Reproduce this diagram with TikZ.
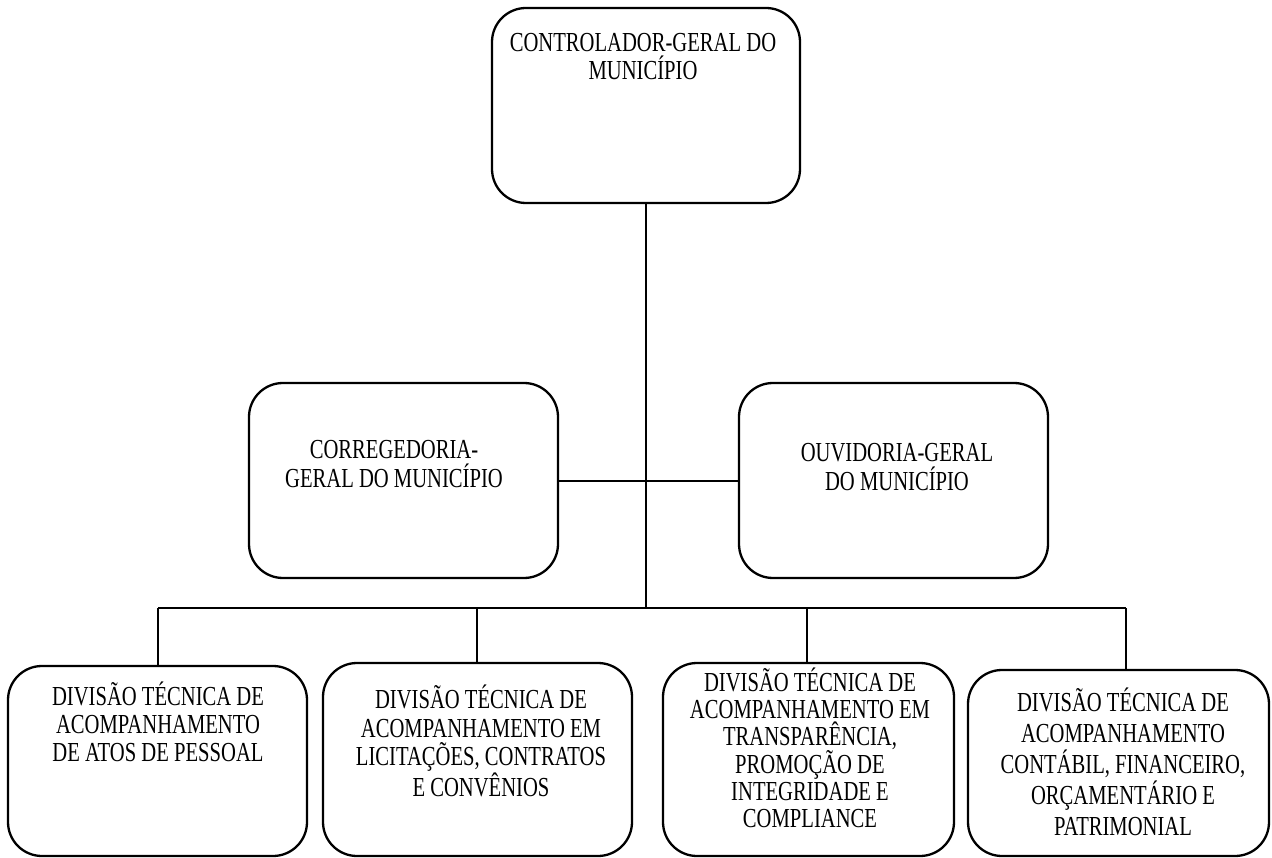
\documentclass[tikz,border=0pt]{standalone}
\usepackage{fontspec}
\setmainfont{Liberation Serif}[FakeStretch=0.75]
\begin{document}
\begin{tikzpicture}[x=1pt,y=-1pt,
  box/.style={draw, line width=2.3pt, rounded corners=34pt, inner sep=0pt},
  lbl/.style={anchor=north, align=center, inner sep=0pt, font=\fontsize{27.5}{28}\selectfont},
  link/.style={line width=2pt}]
\useasboundingbox (0,0) rectangle (1272,858);

% boxes
\node[box, minimum width=308pt, minimum height=195pt] (top) at (646,105.5) {};
\node[box, minimum width=309pt, minimum height=195pt] (ml) at (403.5,480.5) {};
\node[box, minimum width=309pt, minimum height=195pt] (mr) at (893.5,480.5) {};
\node[box, minimum width=299pt, minimum height=190pt] (b1) at (157.5,761) {};
\node[box, minimum width=309pt, minimum height=193pt] (b2) at (477.5,759.5) {};
\node[box, minimum width=291pt, minimum height=193pt] (b3) at (808.5,759.5) {};
\node[box, minimum width=301pt, minimum height=186pt] (b4) at (1118.5,763) {};

% texts
\node[lbl] (t0) at (643,31) {\rule{0pt}{20pt}CONTROLADOR-GERAL DO\\MUNICÍPIO};
\node[lbl, font=\fontsize{27.5}{29}\selectfont] (tl) at (394,438) {\rule{0pt}{20pt}CORREGEDORIA-\\GERAL DO MUNICÍPIO};
\node[lbl, font=\fontsize{27.5}{29.5}\selectfont] (tr) at (897,441) {\rule{0pt}{20pt}OUVIDORIA-GERAL\\DO MUNICÍPIO};
\node[lbl] (tb1) at (158,682) {\rule{0pt}{20pt}DIVISÃO TÉCNICA DE\\ACOMPANHAMENTO\\DE ATOS DE PESSOAL};
\node[lbl, font=\fontsize{27.5}{28.5}\selectfont] (tb2) at (481,685) {\rule{0pt}{20pt}DIVISÃO TÉCNICA DE\\ACOMPANHAMENTO EM\\LICITAÇÕES, CONTRATOS\\E CONVÊNIOS};
\node[lbl, font=\fontsize{27.5}{26.8}\selectfont] (tb3) at (810,668) {\rule{0pt}{20pt}DIVISÃO TÉCNICA DE\\ACOMPANHAMENTO EM\\TRANSPARÊNCIA,\\PROMOÇÃO DE\\INTEGRIDADE E\\COMPLIANCE};
\node[lbl, font=\fontsize{27.5}{31}\selectfont] (tb4) at (1123,688) {\rule{0pt}{20pt}DIVISÃO TÉCNICA DE\\ACOMPANHAMENTO\\CONTÁBIL, FINANCEIRO,\\ORÇAMENTÁRIO E\\PATRIMONIAL};

% connectors
\coordinate (j) at (646,608);
\coordinate (d1) at (158,608);
\coordinate (d2) at (477,608);
\coordinate (d3) at (807,608);
\coordinate (d4) at (1126,608);
\draw[link] (top.south) -- (j);
\draw[link] (ml.east) -- (ml.east -| mr.west);
\draw[link] (d1) -- (d4);
\draw[link] (d1) -- (d1 |- b1.north);
\draw[link] (d2) -- (d2 |- b2.north);
\draw[link] (d3) -- (d3 |- b3.north);
\draw[link] (d4) -- (d4 |- b4.north);
\end{tikzpicture}
\end{document}
